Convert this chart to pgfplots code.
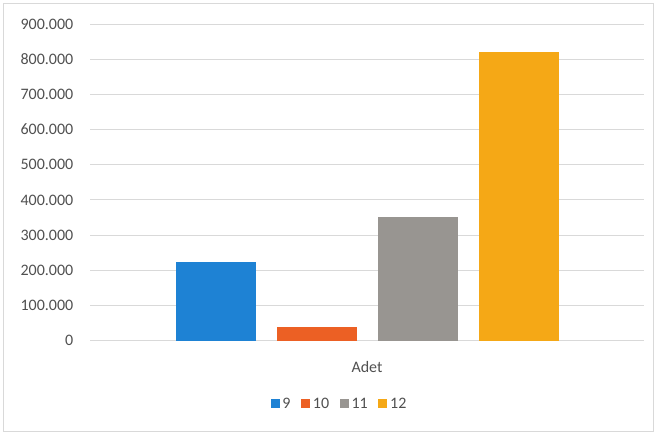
\documentclass[border=0pt]{standalone}
\usepackage{pgfplots}
\pgfplotsset{compat=1.18}
\usepackage{fontspec}
\setmainfont{Carlito}
\definecolor{cblue}{RGB}{30,130,212}
\definecolor{corange}{RGB}{236,96,36}
\definecolor{cgray}{RGB}{152,149,145}
\definecolor{cgold}{RGB}{245,168,22}
\definecolor{txt}{RGB}{80,80,80}
\definecolor{grd}{RGB}{217,217,217}
\begin{document}
\begin{tikzpicture}
\path[use as bounding box] (0pt,0pt) rectangle (492pt,325.5pt);
\draw[grd, line width=0.6pt] (2.25pt,2.25pt) rectangle (489.75pt,323.25pt);
\begin{axis}[
  at={(67.5pt,70.05pt)}, anchor=south west,
  width=415.5pt, height=237.45pt, scale only axis,
  xmin=-277, xmax=277, ymin=0, ymax=900000,
  ytick distance=100000,
  xtick={0}, xticklabels={Adet},
  axis line style={draw=none},
  major tick length=0pt,
  ymajorgrids, grid style={grd, line width=0.6pt},
  scaled y ticks=false,
  /pgf/number format/.cd, fixed, 1000 sep={.}, assume math mode=true,
  /pgfplots/.cd,
  tick label style={font=\fontsize{12}{14}\selectfont, text=txt},
  yticklabel style={xshift=-9pt},
  xticklabel style={yshift=-12pt},
  legend columns=4,
  legend style={draw=none, at={(axis description cs:0.451,-0.2)}, anchor=center,
    font=\fontsize{12}{14}\selectfont, text=txt,
    /tikz/every even column/.append style={column sep=6pt}},
  legend image code/.code={\fill[#1,draw=none] (0pt,-3.2pt) rectangle (6.8pt,3.6pt);},
]
\addplot[ybar, bar width=80, bar shift=0pt, fill=cblue, draw=none] coordinates {(-151.5,223000)};
\addlegendentry{9}
\addplot[ybar, bar width=80, bar shift=0pt, fill=corange, draw=none] coordinates {(-50.5,39000)};
\addlegendentry{10}
\addplot[ybar, bar width=80, bar shift=0pt, fill=cgray, draw=none] coordinates {(50.5,352000)};
\addlegendentry{11}
\addplot[ybar, bar width=80, bar shift=0pt, fill=cgold, draw=none] coordinates {(151.5,820000)};
\addlegendentry{12}
\end{axis}
\end{tikzpicture}
\end{document}
